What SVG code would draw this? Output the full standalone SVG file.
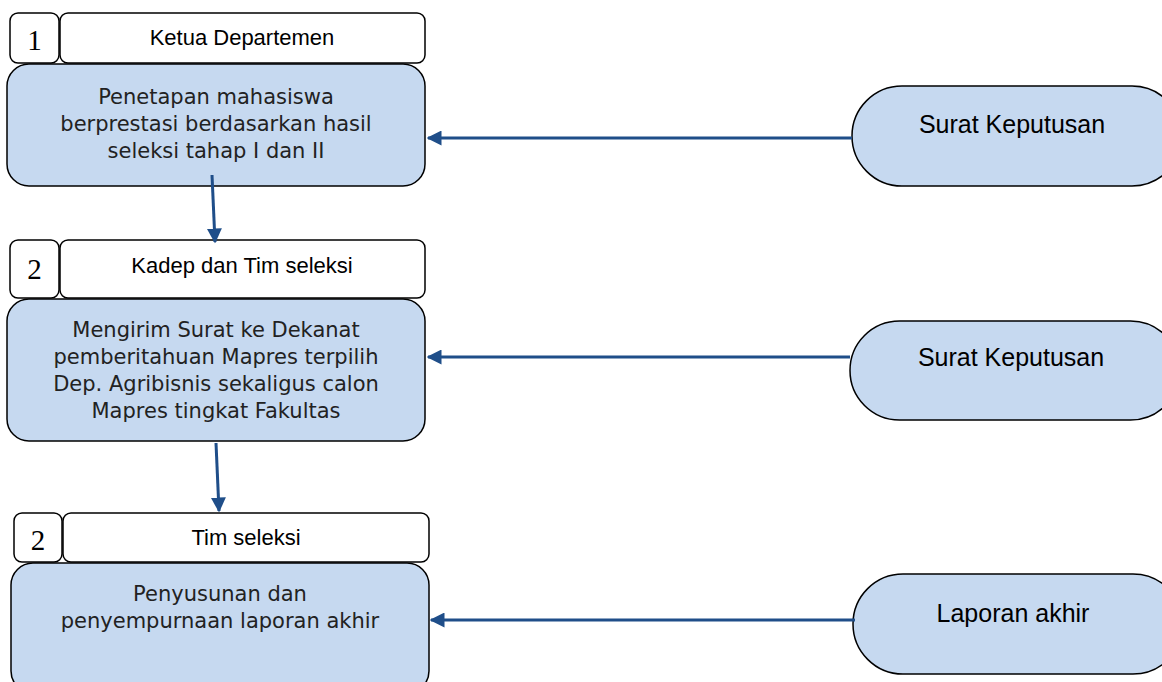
<svg xmlns="http://www.w3.org/2000/svg" width="1162" height="682" viewBox="0 0 1162 682">
<defs>
<style>
.num{fill:#fff;stroke:#000;stroke-width:1.5}
.hdr{fill:#fff;stroke:#000;stroke-width:1.5}
.main{fill:#c6d9f0;stroke:#000;stroke-width:1.5}
.term{fill:#c6d9f0;stroke:#000;stroke-width:1.5}
.ntxt{font-family:"Liberation Serif",serif;font-size:29px;fill:#000;text-anchor:middle}
.htxt{font-family:"Liberation Sans",Arial,sans-serif;font-size:22px;fill:#000;text-anchor:middle}
.mtxt{font-family:"DejaVu Sans",sans-serif;font-size:21px;fill:#222;text-anchor:middle}
.ttxt{font-family:"Liberation Sans",Arial,sans-serif;font-size:25px;fill:#000;text-anchor:middle}
.conn{stroke:#1f4e89;stroke-width:3;fill:none;marker-end:url(#ah)}
</style>
<marker id="ah" viewBox="0 0 10 10" refX="9" refY="5" markerWidth="5" markerHeight="5" orient="auto" markerUnits="strokeWidth">
<path d="M0,0 L10,5 L0,10 z" fill="#1f4e89"/>
</marker>
</defs>
<g id="node1">
<rect class="num" x="10" y="13" width="49" height="50" rx="8"/>
<text class="ntxt" x="34.5" y="50">1</text>
<rect class="hdr" x="60" y="13" width="365" height="50" rx="8"/>
<text class="htxt" x="242" y="45">Ketua Departemen</text>
<rect class="main" x="7" y="64" width="418" height="122" rx="22"/>
<text class="mtxt" x="216" y="104">Penetapan mahasiswa</text>
<text class="mtxt" x="216" y="131">berprestasi berdasarkan hasil</text>
<text class="mtxt" x="216" y="158">seleksi tahap I dan II</text>
</g>
<g id="node2">
<rect class="num" x="10" y="240" width="49" height="58" rx="8"/>
<text class="ntxt" x="34.5" y="279">2</text>
<rect class="hdr" x="60" y="240" width="365" height="58" rx="8"/>
<text class="htxt" x="242" y="273">Kadep dan Tim seleksi</text>
<rect class="main" x="7" y="299" width="418" height="142" rx="22"/>
<text class="mtxt" x="216" y="337">Mengirim Surat ke Dekanat</text>
<text class="mtxt" x="216" y="364">pemberitahuan Mapres terpilih</text>
<text class="mtxt" x="216" y="391">Dep. Agribisnis sekaligus calon</text>
<text class="mtxt" x="216" y="418">Mapres tingkat Fakultas</text>
</g>
<g id="node3">
<rect class="num" x="14" y="513" width="48" height="49" rx="8"/>
<text class="ntxt" x="38" y="550">2</text>
<rect class="hdr" x="63" y="513" width="366" height="49" rx="8"/>
<text class="htxt" x="246" y="545">Tim seleksi</text>
<rect class="main" x="11" y="563" width="418" height="130" rx="22"/>
<text class="mtxt" x="220" y="601">Penyusunan dan</text>
<text class="mtxt" x="220" y="628">penyempurnaan laporan akhir</text>
</g>
<g id="term1">
<rect class="term" x="852" y="86" width="330" height="100" rx="50"/>
<text class="ttxt" x="1012" y="133">Surat Keputusan</text>
</g>
<g id="term2">
<rect class="term" x="850" y="321" width="330" height="99" rx="49.5"/>
<text class="ttxt" x="1011" y="366">Surat Keputusan</text>
</g>
<g id="term3">
<rect class="term" x="853" y="574" width="330" height="100" rx="50"/>
<text class="ttxt" x="1013" y="622">Laporan akhir</text>
</g>
<g id="connectors">
<line class="conn" x1="852" y1="138" x2="428" y2="138"/>
<line class="conn" x1="850" y1="357" x2="428" y2="357"/>
<line class="conn" x1="855" y1="620" x2="431" y2="620"/>
<line class="conn" x1="212" y1="175" x2="215" y2="242"/>
<line class="conn" x1="216" y1="443" x2="219" y2="511"/>
</g>
</svg>
